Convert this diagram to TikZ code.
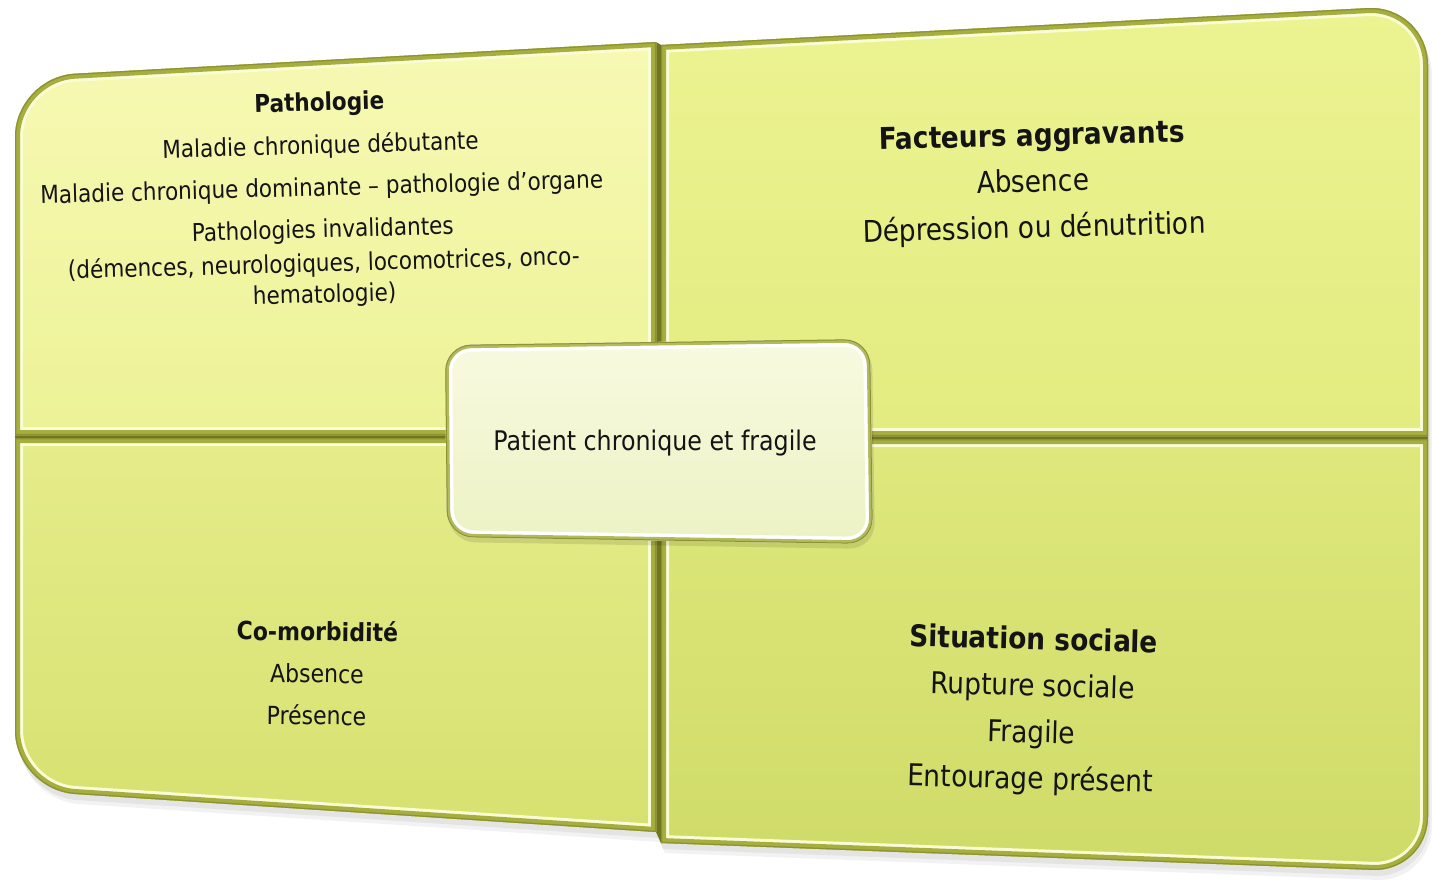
\documentclass[tikz,border=0pt]{standalone}
\usepackage{fontspec}
\setmainfont{DejaVu Sans}[FakeStretch=0.88]

\definecolor{rimdark}{RGB}{166,174,64}
\definecolor{rimbase}{RGB}{112,118,30}
\definecolor{rimedge}{RGB}{140,147,48}
\definecolor{rimlight}{RGB}{250,252,214}
\definecolor{tlTop}{RGB}{247,249,180}
\definecolor{tlBot}{RGB}{236,242,150}
\definecolor{trTop}{RGB}{236,243,146}
\definecolor{trBot}{RGB}{226,236,128}
\definecolor{blTop}{RGB}{229,236,138}
\definecolor{blBot}{RGB}{214,225,112}
\definecolor{brTop}{RGB}{222,232,124}
\definecolor{brBot}{RGB}{207,219,104}
\definecolor{coreTop}{RGB}{248,250,224}
\definecolor{coreBot}{RGB}{236,242,196}

% quadrant outlines (pixel-like units, y pointing down)
\newcommand\pathTL{(15,435) -- (15,137) .. controls (15,104) and (42,75.5) .. (75,73.7) -- (656,42) -- (656,435) -- cycle}
\newcommand\pathBL{(15,438) -- (656,438) -- (656,832) -- (75,794) .. controls (42,791.7) and (15,763) .. (15,730) -- cycle}
\newcommand\pathTR{(661,45) -- (1368,8.1) .. controls (1401,6.4) and (1428,32) .. (1428,65) -- (1428,436) -- (661,436) -- cycle}
\newcommand\pathBR{(661,439) -- (1428,439) -- (1428,817) .. controls (1428,847) and (1403,871.1) .. (1373,869.9) -- (661,843) -- cycle}
\newcommand\pathAll{(15,137) .. controls (15,104) and (42,75.5) .. (75,73.7) -- (656,42) -- (661,45) -- (1368,8.1) .. controls (1401,6.4) and (1428,32) .. (1428,65) -- (1428,817) .. controls (1428,847) and (1403,871.1) .. (1373,869.9) -- (661,843) -- (656,832) -- (75,794) .. controls (42,791.7) and (15,763) .. (15,730) -- cycle}
\newcommand\pathCore{(445,345) -- (870,339) -- (873,544) -- (447,537) -- cycle}

% a bevelled quadrant: gradient fill, then a rim kept inside the outline
\newcommand\quadrant[3]{%
  \shade[top color=#2,bottom color=#3] #1;
  \begin{scope}
    \clip #1;
    \draw[rimlight,line width=16pt,line join=round] #1;
    \draw[rimdark,line width=10pt,line join=round] #1;
    \draw[rimedge,line width=2.5pt,line join=round] #1;
  \end{scope}}

\begin{document}
\begin{tikzpicture}[x=1pt,y=-1pt,
  txt/.style={align=center,inner sep=0pt,text=black!92}]
\useasboundingbox (0,0) rectangle (1432,884);

% soft drop shadow under the whole board
\fill[black,opacity=0.05,shift={(4,10)}] \pathAll;
\fill[black,opacity=0.06,shift={(2,6)}] \pathAll;
% dark base that shows through the dividing grooves
\fill[rimbase] \pathAll;

% four quadrants
\quadrant{\pathTL}{tlTop}{tlBot}
\quadrant{\pathTR}{trTop}{trBot}
\quadrant{\pathBL}{blTop}{blBot}
\quadrant{\pathBR}{brTop}{brBot}

% central box
\fill[black,opacity=0.10,rounded corners=26pt,shift={(2,5)}] \pathCore;
\shade[top color=coreTop,bottom color=coreBot,rounded corners=26pt] \pathCore;
\begin{scope}
  \clip[rounded corners=26pt] \pathCore;
  \draw[white,line width=14pt,rounded corners=26pt] \pathCore;
  \draw[rimdark!85,line width=7pt,rounded corners=26pt] \pathCore;
  \draw[rimedge,line width=2pt,rounded corners=26pt] \pathCore;
\end{scope}

% texts
\node[txt,rotate=1.6,font=\fontsize{24.5}{31}\selectfont] (pathologie) at (322,200)
  {\textbf{Pathologie}\\[12pt]
   Maladie chronique débutante\\[11pt]
   Maladie chronique dominante – pathologie d’organe\\[11pt]
   Pathologies invalidantes\\[3pt]
   (démences, neurologiques, locomotrices, onco-\\
   hematologie)};
\node[txt,rotate=1.5,font=\fontsize{30}{46}\selectfont] (facteurs) at (1033,184)
  {\textbf{Facteurs aggravants}\\ Absence\\ Dépression ou dénutrition};
\node[txt,rotate=-0.6,font=\fontsize{25}{42}\selectfont] (comorbidite) at (317,673)
  {\textbf{Co-morbidité}\\ Absence\\ Présence};
\node[txt,rotate=-1.5,font=\fontsize{30}{46.5}\selectfont] (social) at (1032,711)
  {\textbf{Situation sociale}\\ Rupture sociale\\ Fragile\\ Entourage présent};
\node[txt,font=\fontsize{27}{32}\selectfont] (core) at (655,443) {Patient chronique et fragile};
\end{tikzpicture}
\end{document}
